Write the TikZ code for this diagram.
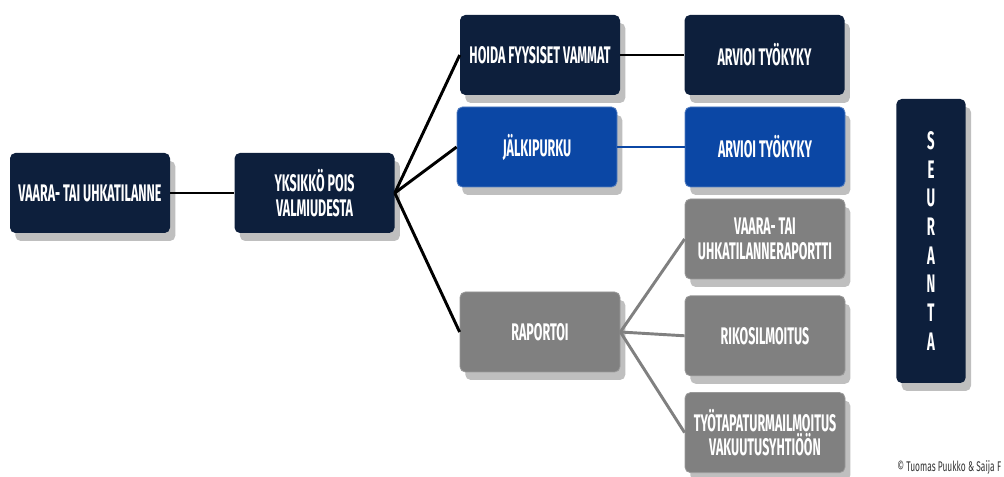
\documentclass[tikz,border=0pt]{standalone}
\usepackage{fontspec}
\setmainfont{Fira Sans}[FakeStretch=0.52]
\newfontfamily\thinfont{Fira Sans}[FakeStretch=0.6]
\usepackage{xcolor}
\usepackage{tikz}
\usetikzlibrary{positioning, shadows}

\definecolor{navy}{HTML}{0D1F3C}
\definecolor{deepblue}{HTML}{0B47A5}
\definecolor{midgrey}{HTML}{808080}

\tikzset{
  box/.style={rectangle, rounded corners=4pt, minimum width=120pt, minimum height=60pt,
    inner sep=2pt, align=center, text=white,
    font=\bfseries\fontsize{18}{18.5}\selectfont,
    drop shadow={shadow xshift=4pt, shadow yshift=-6pt, opacity=.25, fill=black}},
  darkbox/.style={box, fill=navy},
  bluebox/.style={box, fill=deepblue, draw=deepblue!70!white, line width=.6pt},
  greybox/.style={box, fill=midgrey, draw=midgrey!80!white, line width=.6pt},
  link/.style={line width=2.2pt, black},
}

\begin{document}
\begin{tikzpicture}[x=0.75pt, y=-0.75pt]
  \useasboundingbox (0,0) rectangle (1004,477);
  % Define nodes
  \node[darkbox] (vaara) at (90,193) {VAARA- TAI UHKATILANNE};
  \node[darkbox, right=48pt of vaara] (pois) {YKSIKKÖ POIS\\VALMIUDESTA};
  %--
  \node[darkbox] (hoida) at (540,55) {HOIDA FYYSISET VAMMAT};
  \node[darkbox, right=48pt of hoida] (arvioi1) {ARVIOI TYÖKYKY};
  \node[bluebox] (purku) at (537,147) {JÄLKIPURKU};
  \node[bluebox] (arvioi2) at (765,147) {ARVIOI TYÖKYKY};
  \node[greybox] (raportoi) at (540,332) {RAPORTOI};
  %--
  \node[greybox] (raportti) at (765,239) {VAARA- TAI\\UHKATILANNERAPORTTI};
  \node[greybox, below=12pt of raportti] (rikos) {RIKOSILMOITUS};
  \node[greybox, below=12pt of rikos] (tapaturma) {TYÖTAPATURMAILMOITUS\\VAKUUTUSYHTIÖÖN};
  %--
  \node[darkbox, minimum width=52pt, minimum height=213pt, font=\bfseries\fontsize{19}{21.5}\selectfont]
    (seuranta) at (931,241) {S\\E\\U\\R\\A\\N\\T\\A};
  \node[anchor=west, inner sep=0pt, text=black!80, font=\thinfont\fontsize{10.5}{11}\selectfont]
    (tekijat) at (897,468) {© Tuomas Puukko \& Saija F};

  % Connect the nodes
  \draw[link] (vaara) -- (pois);
  \draw[link] (pois.east) -- (hoida.west);
  \draw[link] (pois.east) -- (purku.west);
  \draw[link] (pois.east) -- (raportoi.west);
  \draw[link] (hoida) -- (arvioi1);
  \draw[link, deepblue, line width=1.8pt] (purku) -- (arvioi2);
  \draw[link, midgrey] (raportoi.east) -- (raportti.west);
  \draw[link, midgrey] (raportoi.east) -- (rikos.west);
  \draw[link, midgrey] (raportoi.east) -- (tapaturma.west);
\end{tikzpicture}
\end{document}
